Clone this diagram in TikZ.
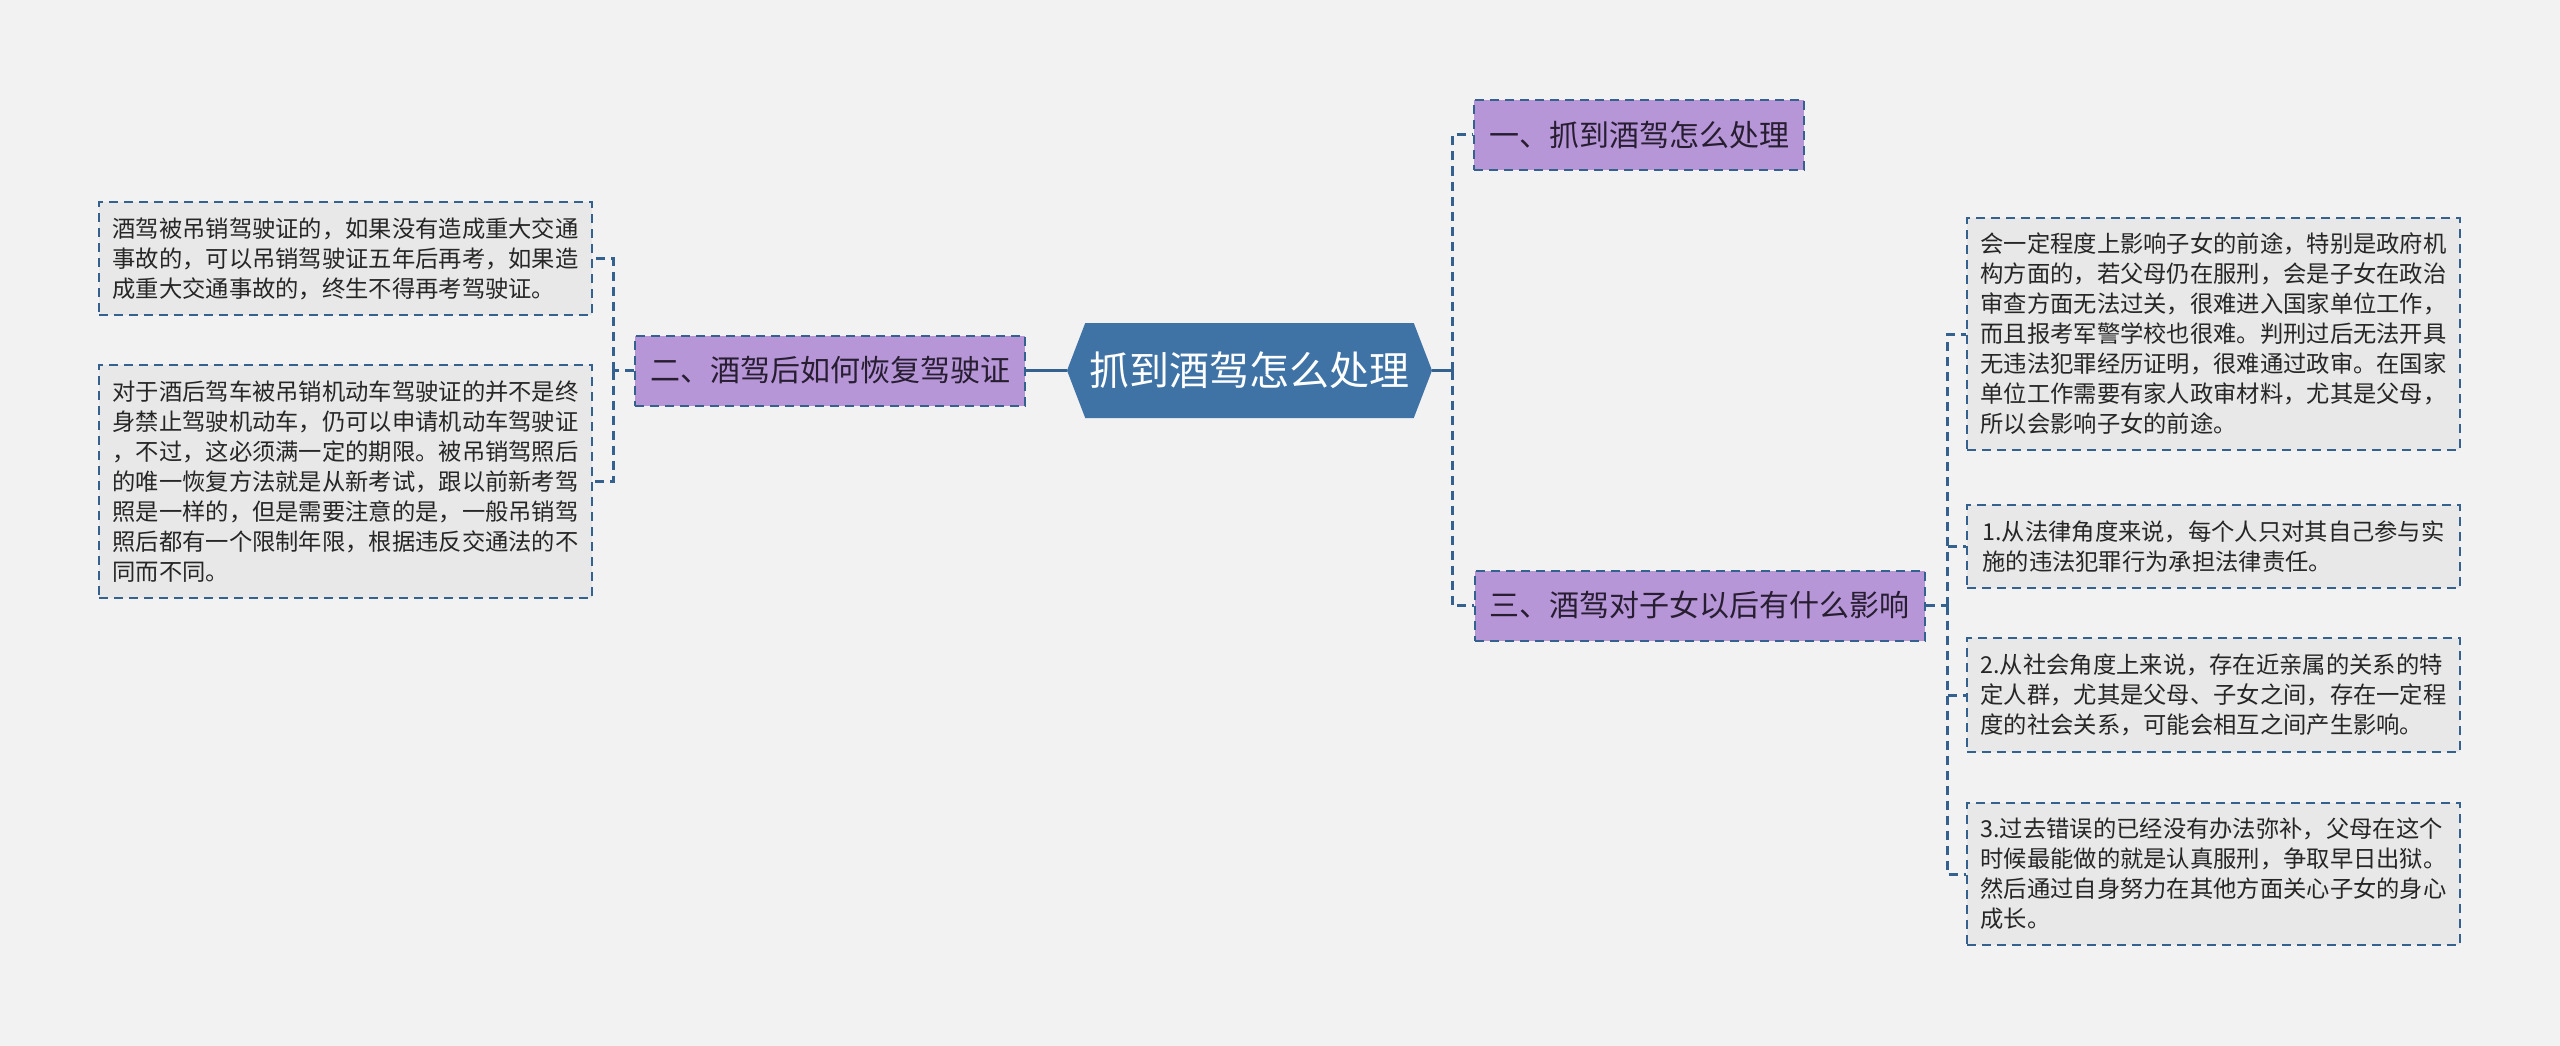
\documentclass[tikz,border=0pt]{standalone}
\usepackage{fontspec}
\setmainfont{Noto Sans CJK SC}
\usepackage{xcolor}
\usetikzlibrary{shapes.symbols}

\definecolor{bgcol}{RGB}{242,242,242}
\definecolor{hubblue}{RGB}{63,114,165}
\definecolor{linkblue}{RGB}{52,97,142}
\definecolor{topicpurple}{RGB}{183,150,216}
\definecolor{topictext}{RGB}{40,30,50}
\definecolor{leafgray}{RGB}{232,232,232}
\definecolor{leaftext}{RGB}{38,38,38}

\begin{document}
\begin{tikzpicture}[
            x = 1pt, y = -1pt, % one unit = one pixel of the page
            hub/.style = {shape=signal, signal to=east and west, signal pointer angle=138,
                fill=hubblue, text=white, font=\fontsize{40}{48}\selectfont,
                minimum width=365pt, minimum height=95pt, inner sep=0pt},
            topic/.style = {draw=linkblue, fill=topicpurple, dash pattern=on 9pt off 6pt,
                line width=2pt, text=topictext, font=\fontsize{30}{36}\selectfont,
                inner xsep=15pt, minimum height=70pt},
            leaf/.style = {draw=linkblue, fill=leafgray, dash pattern=on 9pt off 6pt,
                line width=2pt, text=leaftext, font=\fontsize{23.3}{30}\selectfont,
                align=left, minimum width=493pt, inner sep=0pt},
            link/.style = {draw=linkblue, line width=3pt},
            branch/.style = {link, dash pattern=on 9pt off 6pt}
        ]
\fill[bgcol] (0,0) rectangle (2560,1046);
\useasboundingbox (0,0) rectangle (2560,1046);

\node[hub] (hub) at (1249.5,370.5) {抓到酒驾怎么处理};
\node[topic] (one) at (1639,135) {一、抓到酒驾怎么处理};
\node[topic] (two) at (830,370.5) {二、酒驾后如何恢复驾驶证};
\node[topic] (three) at (1699.5,605.5) {三、酒驾对子女以后有什么影响};

% left side
\node[leaf, minimum height=113pt] (revoke) at (345.5,258.5) {酒驾被吊销驾驶证的，如果没有造成重大交通\\事故的，可以吊销驾驶证五年后再考，如果造\\成重大交通事故的，终生不得再考驾驶证。};
\node[leaf, minimum height=233pt] (retest) at (345.5,481.5) {对于酒后驾车被吊销机动车驾驶证的并不是终\\身禁止驾驶机动车，仍可以申请机动车驾驶证\\，不过，这必须满一定的期限。被吊销驾照后\\的唯一恢复方法就是从新考试，跟以前新考驾\\照是一样的，但是需要注意的是，一般吊销驾\\照后都有一个限制年限，根据违反交通法的不\\同而不同。};

% right side
\node[leaf, minimum height=232pt] (future) at (2213.5,334) {会一定程度上影响子女的前途，特别是政府机\\构方面的，若父母仍在服刑，会是子女在政治\\审查方面无法过关，很难进入国家单位工作，\\而且报考军警学校也很难。判刑过后无法开具\\无违法犯罪经历证明，很难通过政审。在国家\\单位工作需要有家人政审材料，尤其是父母，\\所以会影响子女的前途。};
\node[leaf, minimum height=83pt] (law) at (2213.5,546.5) {1.从法律角度来说，每个人只对其自己参与实\\施的违法犯罪行为承担法律责任。};
\node[leaf, minimum height=114pt] (society) at (2213.5,695) {2.从社会角度上来说，存在近亲属的关系的特\\定人群，尤其是父母、子女之间，存在一定程\\度的社会关系，可能会相互之间产生影响。};
\node[leaf, minimum height=142pt] (remedy) at (2213.5,874) {3.过去错误的已经没有办法弥补，父母在这个\\时候最能做的就是认真服刑，争取早日出狱。\\然后通过自身努力在其他方面关心子女的身心\\成长。};

\coordinate (forkR) at (1452,370.5);
\coordinate (forkL) at (613,370.5);
\coordinate (forkC) at (1947,605.5);

\path[link] (hub.east) -- (forkR);
\path[link] (hub.west) -- (two.east);
\path[branch] (forkR) |- (one.west);
\path[branch] (forkR) |- (three.west);

\path[branch] (two.west) -- (forkL);
\path[branch] (forkL) |- (revoke.east);
\path[branch] (forkL) |- (retest.east);

\path[branch] (three.east) -- (forkC);
\path[branch] (forkC) |- (future.west);
\path[branch] (forkC) |- (law.west);
\path[branch] (forkC) |- (society.west);
\path[branch] (forkC) |- (remedy.west);

\end{tikzpicture}
\end{document}
